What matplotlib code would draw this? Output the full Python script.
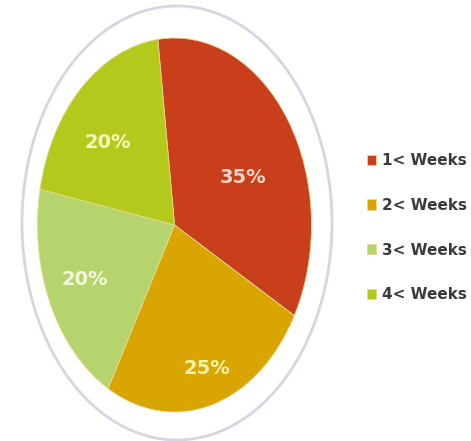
import numpy as np
import matplotlib
matplotlib.use("Agg")
import matplotlib.pyplot as plt
from matplotlib.patches import Ellipse

labels = ["1< Weeks", "2< Weeks", "3< Weeks", "4< Weeks"]
values = [35, 25, 20, 20]
colors = ["#c93f1b", "#d9a500", "#b6d46e", "#b3c91c"]
text_colors = ["#fbd8c8", "#fff2a8", "#f4fad8", "#fafab8"]

# layout of percentage labels (radius, angular shift in degrees)
label_r = [0.56, 0.80, 0.72, 0.66]
label_shift = [-7, 1, -1, 5]

W, H = 471, 441
fig = plt.figure(figsize=(W / 100, H / 100), dpi=100)
ax = fig.add_axes([0, 0, 1, 1])

cx, cy, rx, ry = 174.5, 225, 137, 187
wedges, texts, autotexts = ax.pie(
    values, colors=colors, startangle=97, counterclock=False,
    autopct="%d%%", pctdistance=0.6, radius=1.0,
    wedgeprops=dict(edgecolor="#e8d890", linewidth=0.6),
    textprops=dict(fontsize=14, fontweight="bold", family="DejaVu Sans"),
)
for w, t, c, r, s in zip(wedges, autotexts, text_colors, label_r, label_shift):
    t.set_color(c)
    ang = np.deg2rad((w.theta1 + w.theta2) / 2 + s)
    t.set_position((r * np.cos(ang), r * np.sin(ang)))

ax.set_aspect("auto")
ax.set_xlim((0 - cx) / rx, (W - cx) / rx)
ax.set_ylim((cy - H) / ry, cy / ry)
ax.axis("off")

ring = Ellipse(((177 - cx) / rx, (cy - 223) / ry), 310 / rx, 434 / ry,
               fill=False, edgecolor="#d4d7e2", linewidth=2.0)
ax.add_patch(ring)

leg = fig.legend(wedges, labels, loc="upper left",
                 bbox_to_anchor=(367 / W, 1 - 153 / H),
                 frameon=False, borderpad=0, borderaxespad=0,
                 handlelength=0.6, handleheight=0.65, handletextpad=0.4,
                 labelspacing=1.95,
                 prop=dict(size=11, weight="bold", family="DejaVu Sans"))
for t in leg.get_texts():
    t.set_color("#3a3a3a")

fig.savefig("out.png", dpi=100)
